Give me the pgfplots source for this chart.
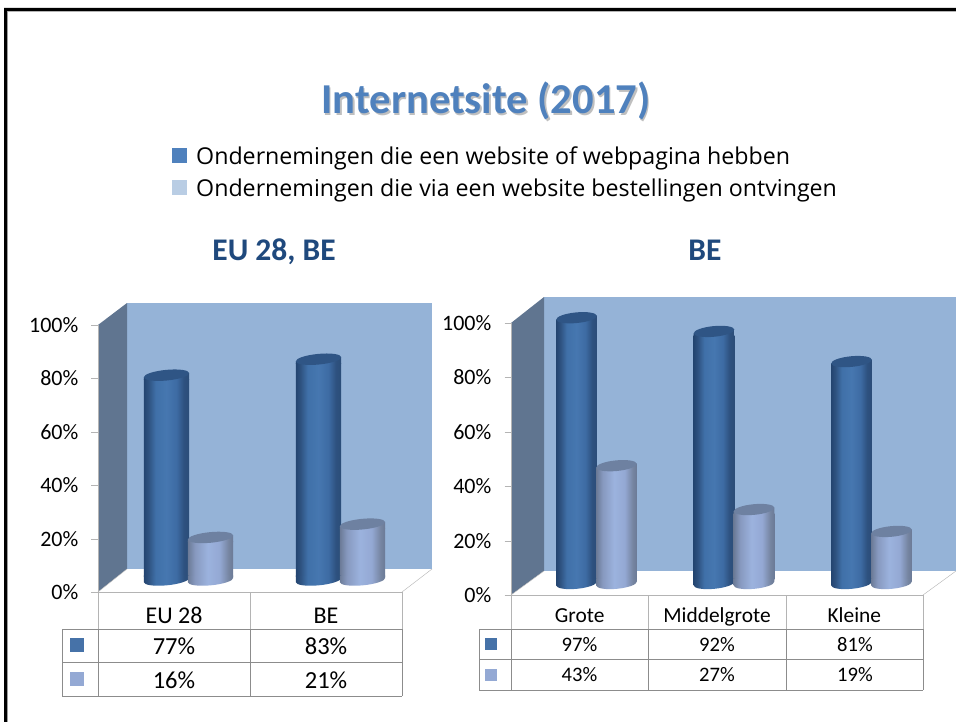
\documentclass[border=0pt]{standalone}
\usepackage{pgfplots}
\pgfplotsset{compat=1.18}
\usepackage{fontspec}
\setmainfont{Carlito}
\newfontfamily\legfont{Open Sans}
\definecolor{wallback}{HTML}{95B3D7}
\definecolor{wallside}{HTML}{607590}
\definecolor{gridgray}{HTML}{B4B4B4}
\definecolor{cellgray}{HTML}{8C8C8C}
\definecolor{titleblue}{HTML}{4F81BD}
\definecolor{subblue}{HTML}{1F497D}
\definecolor{keyD}{HTML}{4672A8}
\definecolor{keyL}{HTML}{94A9D4}
\definecolor{capD}{HTML}{2F5585}
\definecolor{capL}{HTML}{6E81A1}
\pgfdeclarehorizontalshading{cylD}{100bp}{rgb(0bp)=(.14,.27,.44);rgb(25bp)=(.14,.27,.44);rgb(30bp)=(.18,.32,.50);rgb(38bp)=(.25,.44,.66);rgb(50bp)=(.275,.467,.69);rgb(61bp)=(.24,.42,.64);rgb(69bp)=(.18,.32,.50);rgb(75bp)=(.17,.30,.47);rgb(100bp)=(.17,.30,.47)}
\pgfdeclarehorizontalshading{cylL}{100bp}{rgb(0bp)=(.42,.48,.59);rgb(25bp)=(.42,.48,.59);rgb(33bp)=(.53,.60,.75);rgb(47bp)=(.61,.70,.87);rgb(60bp)=(.58,.66,.83);rgb(70bp)=(.46,.52,.63);rgb(75bp)=(.42,.48,.59);rgb(100bp)=(.42,.48,.59)}
% #1 name, #2 half width, #3 x tilt, #4 shading, #5 cap colour
\newcommand\declcyl[5]{%
  \pgfdeclareplotmark{#1top}{%
    \pgfpathmoveto{\pgfqpoint{-#2pt}{-0.6pt}}%
    \pgfpathlineto{\pgfqpoint{#2pt}{-0.6pt}}%
    \pgfpathlineto{\pgfpointadd{\pgfqpoint{0pt}{4pt}}{\pgfqpoint{#2pt}{#3pt}}}%
    \pgfpathlineto{\pgfpointadd{\pgfqpoint{0pt}{4pt}}{\pgfqpoint{-#2pt}{-#3pt}}}%
    \pgfpathclose
    \pgfshadepath{#4}{0}\pgfusepath{discard}%
    \pgfsetfillcolor{#5}%
    \pgfpathellipse{\pgfqpoint{0pt}{4pt}}{\pgfqpoint{#2pt}{#3pt}}{\pgfqpoint{-0.5pt}{5.3pt}}%
    \pgfusepath{fill}}%
  \pgfdeclareplotmark{#1bot}{%
    \pgfpathmoveto{\pgfqpoint{-#2pt}{0.6pt}}%
    \pgfpathlineto{\pgfpointadd{\pgfqpoint{0pt}{-4pt}}{\pgfqpoint{-#2pt}{-#3pt}}}%
    \pgfpathlineto{\pgfpointadd{\pgfqpoint{0pt}{-4pt}}{\pgfqpoint{#2pt}{#3pt}}}%
    \pgfpathlineto{\pgfqpoint{#2pt}{0.6pt}}%
    \pgfpathclose
    \pgfpathellipse{\pgfqpoint{0pt}{-4pt}}{\pgfqpoint{#2pt}{#3pt}}{\pgfqpoint{-0.5pt}{5.3pt}}%
    \pgfshadepath{#4}{0}\pgfusepath{discard}}%
}
\declcyl{aD}{22.7}{2.18}{cylD}{capD}
\declcyl{aL}{22.7}{2.18}{cylL}{capL}
\declcyl{bD}{20.3}{1.95}{cylD}{capD}
\declcyl{bL}{20.3}{1.95}{cylL}{capL}
\pgfplotsset{
 tickax/.style={scale only axis,ymin=0,ymax=100,ytick={0,20,40,60,80,100},
  yticklabels={0\%,20\%,40\%,60\%,80\%,100\%},axis y line*=left,axis x line*=bottom,
  axis line style={draw=gridgray,-},tick align=outside,major tick length=6.5pt,
  ytick style={draw=gridgray},xtick style={draw=none},
  yticklabel style={font=\fontsize{22}{22}\selectfont,anchor=east,inner sep=0pt,xshift=-13pt},
  /pgf/number format/assume math mode=true},
 dataax/.style={scale only axis,hide axis,clip=false,ymin=0,ymax=100},
}
% one cylinder: #1 mark name, #2 shading, #3 bar width, #4 bar shift, #5 category, #6 value, #7 offset of rectangle in % units
\newcommand\cyl[7]{%
  \addplot[ybar,bar width=#3pt,bar shift=#4pt,draw=none,shade,shading=#2,forget plot] table[row sep=\\,x=x,y expr=\thisrow{v}-#7] {x v\\ #5 #6\\};
  \addplot[only marks,mark=#1bot,mark options={xshift=#4pt},forget plot] coordinates {(#5,0)};
  \addplot[only marks,mark=#1top,mark options={xshift=#4pt},forget plot] table[row sep=\\,x=x,y expr=\thisrow{v}-#7] {x v\\ #5 #6\\};
}
\begin{document}
\begin{tikzpicture}
\begin{scope}[x=1pt,y=-1pt]
\path[use as bounding box] (0,0) rectangle (956,722);
\fill[white] (0,0) rectangle (956,722);
% frame
\draw[gridgray,line width=0.8pt] (7.5,722) -- (7.5,11.5) -- (956,11.5);
\fill[black] (4,722) -- (4,8) -- (956,8) -- (956,11) -- (7,11) -- (7,722) -- cycle;
% titles
\node[font=\fontsize{42.6}{42.6}\bfseries\selectfont,text=black!25,anchor=base,inner sep=0] at (487.5,115.5) {Internetsite (2017)};
\node[font=\fontsize{42.6}{42.6}\bfseries\selectfont,text=titleblue,anchor=base,inner sep=0] at (486,114) {Internetsite (2017)};
\fill[titleblue] (172,148) rectangle (187,163);
\fill[titleblue!40!white] (172,180) rectangle (187,195);
\node[font=\legfont\fontsize{23.2}{23.2}\selectfont,anchor=base west,inner sep=0] at (196,165) {Ondernemingen die een website of webpagina hebben};
\node[font=\legfont\fontsize{23.2}{23.2}\selectfont,anchor=base west,inner sep=0] at (196,197) {Ondernemingen die via een website bestellingen ontvingen};
\node[font=\fontsize{31.5}{31.5}\bfseries\selectfont,text=subblue,anchor=base,inner sep=0] at (274,261) {EU 28, BE};
\node[font=\fontsize{31.5}{31.5}\bfseries\selectfont,text=subblue,anchor=base,inner sep=0] at (705,261) {BE};
% left chart walls
\fill[wallback] (127,303) rectangle (432,569);
\fill[wallside] (98,325) -- (127,303) -- (127,569) -- (98,592) -- cycle;
\fill[white] (98,592) -- (127,569) -- (432,569) -- (402,592) -- cycle;
\draw[gridgray] (98,592) -- (127,569) (402,592) -- (432,569);
% right chart walls
\fill[wallback] (544,297) rectangle (956,571);
\fill[wallside] (511,323) -- (544,297) -- (544,571) -- (511,595) -- cycle;
\fill[white] (511,595) -- (544,571) -- (956,571) -- (923,595) -- cycle;
\draw[gridgray] (511,595) -- (544,571) (923,595) -- (956,571);
% left table
\draw[gridgray,line width=.7pt] (98,592) -- (98,629) (250,592) -- (250,629) (402,592) -- (402,629);
\draw[cellgray,line width=.7pt] (62,629) -- (402,629) (62,662) -- (402,662) (62,696) -- (402,696) (62,629) -- (62,696) (98,629) -- (98,696) (250,629) -- (250,696) (402,629) -- (402,696);
\fill[keyD] (70,638) rectangle (84,652);
\fill[keyL] (70,672) rectangle (84,686);
\foreach \xx/\a/\b in {174/77/16,326/83/21}{
 \node[font=\fontsize{24.5}{24.5}\selectfont,inner sep=0] at (\xx,646) {\a\%};
 \node[font=\fontsize{24.5}{24.5}\selectfont,inner sep=0] at (\xx,680) {\b\%};}
% right table
\draw[gridgray,line width=.7pt] (511,595) -- (511,629) (648.5,595) -- (648.5,629) (786,595) -- (786,629) (923,595) -- (923,629);
\draw[cellgray,line width=.7pt] (479,629) -- (923,629) (479,659) -- (923,659) (479,690) -- (923,690) (479,629) -- (479,690) (511,629) -- (511,690) (648.5,629) -- (648.5,690) (786,629) -- (786,690) (923,629) -- (923,690);
\fill[keyD] (485,638) rectangle (497,650);
\fill[keyL] (485,669) rectangle (497,681);
\foreach \xx/\a/\b in {579.5/97/43,717/92/27,855/81/19}{
 \node[font=\fontsize{20.6}{20.6}\selectfont,inner sep=0] at (\xx,644.5) {\a\%};
 \node[font=\fontsize{20.6}{20.6}\selectfont,inner sep=0] at (\xx,674.5) {\b\%};}
\end{scope}
% left ticks + category row
\begin{axis}[tickax,at={(98pt,-592pt)},anchor=south west,width=304pt,height=267pt,
  xmin=-0.5,xmax=1.5,xtick={0,1},xticklabels={EU 28,BE},
  xticklabel style={font=\fontsize{24}{24}\selectfont,anchor=base,yshift=-25pt}]
\end{axis}
% left data
\begin{axis}[dataax,at={(112.5pt,-576pt)},anchor=south west,width=304pt,height=266pt,xmin=-0.5,xmax=1.5]
\cyl{aD}{cylD}{45.4}{-22}{0}{77}{3.008}
\cyl{aL}{cylL}{45.4}{22}{0}{16}{3.008}
\cyl{aD}{cylD}{45.4}{-22}{1}{83}{3.008}
\cyl{aL}{cylL}{45.4}{22}{1}{21}{3.008}
\end{axis}
% right ticks + category row
\begin{axis}[tickax,at={(511pt,-595pt)},anchor=south west,width=412pt,height=272pt,
  xmin=-0.5,xmax=2.5,xtick={0,1,2},xticklabels={Grote,Middelgrote,Kleine},
  xticklabel style={font=\fontsize{21.4}{21.4}\selectfont,anchor=base,yshift=-21pt}]
\end{axis}
% right data
\begin{axis}[dataax,at={(527.75pt,-579.5pt)},anchor=south west,width=412.5pt,height=274pt,xmin=-0.5,xmax=2.5]
\cyl{bD}{cylD}{40.6}{-20}{0}{97}{2.92}
\cyl{bL}{cylL}{40.6}{20}{0}{43}{2.92}
\cyl{bD}{cylD}{40.6}{-20}{1}{92}{2.92}
\cyl{bL}{cylL}{40.6}{20}{1}{27}{2.92}
\cyl{bD}{cylD}{40.6}{-20}{2}{81}{2.92}
\cyl{bL}{cylL}{40.6}{20}{2}{19}{2.92}
\end{axis}
\end{tikzpicture}
\end{document}
